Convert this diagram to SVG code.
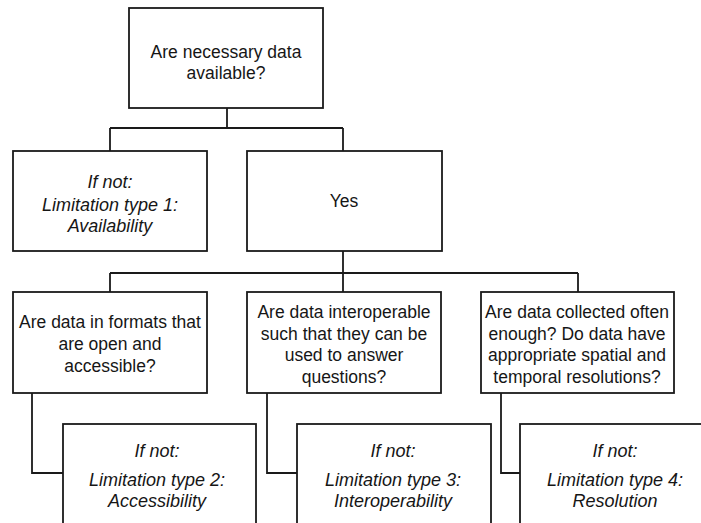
<svg xmlns="http://www.w3.org/2000/svg" width="701" height="523" viewBox="0 0 701 523">
  <style>
    .box { fill: #ffffff; stroke: #1a1a1a; stroke-width: 1.8; }
    .link { fill: none; stroke: #1a1a1a; stroke-width: 1.8; }
    text { font-family: "Liberation Sans", Arial, sans-serif; font-size: 17.5px; fill: #161616; text-anchor: middle; }
    .it { font-style: italic; font-size: 18px; }
  </style>
  <rect width="701" height="523" fill="#ffffff"/>

  <!-- connectors -->
  <g id="connectors">
    <path class="link" d="M227,108 V128 M110,128 H343 M110,128 V151 M343,128 V151"/>
    <path class="link" d="M343,251 V273 M110,273 H578 M110,273 V292 M343,273 V292 M578,273 V292"/>
    <path class="link" d="M32,393 V473 H63"/>
    <path class="link" d="M267,393 V473 H297"/>
    <path class="link" d="M501,393 V473 H520"/>
  </g>

  <g id="q-available">
    <rect class="box" x="129" y="8" width="194" height="100"/>
    <text x="226" y="58">Are necessary data</text>
    <text x="226" y="79">available?</text>
  </g>

  <g id="lim-1">
    <rect class="box" x="13" y="151" width="194" height="100"/>
    <text class="it" x="110" y="188">If not:</text>
    <text class="it" x="110" y="211">Limitation type 1:</text>
    <text class="it" x="110" y="232">Availability</text>
  </g>

  <g id="yes">
    <rect class="box" x="247" y="151" width="195" height="100"/>
    <text x="344" y="207">Yes</text>
  </g>

  <g id="q-formats">
    <rect class="box" x="13" y="292" width="194" height="101"/>
    <text x="110" y="328">Are data in formats that</text>
    <text x="110" y="350">are open and</text>
    <text x="110" y="372">accessible?</text>
  </g>

  <g id="q-interop">
    <rect class="box" x="247" y="292" width="194" height="101"/>
    <text x="344" y="318">Are data interoperable</text>
    <text x="344" y="340">such that they can be</text>
    <text x="344" y="361">used to answer</text>
    <text x="344" y="383">questions?</text>
  </g>

  <g id="q-resolution">
    <rect class="box" x="481" y="292" width="193" height="101"/>
    <text x="577" y="318">Are data collected often</text>
    <text x="577" y="340">enough? Do data have</text>
    <text x="577" y="361">appropriate spatial and</text>
    <text x="577" y="383">temporal resolutions?</text>
  </g>

  <g id="lim-2">
    <rect class="box" x="63" y="424" width="193" height="110"/>
    <text class="it" x="157" y="457">If not:</text>
    <text class="it" x="157" y="486">Limitation type 2:</text>
    <text class="it" x="157" y="507">Accessibility</text>
  </g>

  <g id="lim-3">
    <rect class="box" x="297" y="424" width="194" height="110"/>
    <text class="it" x="393" y="457">If not:</text>
    <text class="it" x="393" y="486">Limitation type 3:</text>
    <text class="it" x="393" y="507">Interoperability</text>
  </g>

  <g id="lim-4">
    <rect class="box" x="520" y="424" width="192" height="110"/>
    <text class="it" x="615" y="457">If not:</text>
    <text class="it" x="615" y="486">Limitation type 4:</text>
    <text class="it" x="615" y="507">Resolution</text>
  </g>
</svg>
